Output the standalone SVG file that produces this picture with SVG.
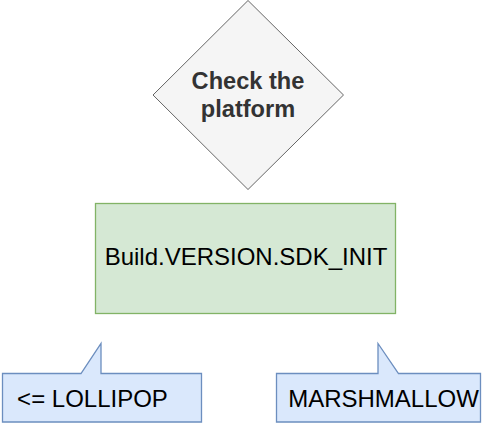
<svg xmlns="http://www.w3.org/2000/svg" width="497" height="424" viewBox="0 0 497 424">
<style>
text { font-family: "Liberation Sans", Arial, Helvetica, sans-serif; font-size: 24px; text-anchor: middle; fill: #000000; }
.decision { fill: #f5f5f5; stroke: #666666; stroke-width: 1; }
.decision-text { font-weight: bold; fill: #333333; font-size: 23.6px; }
.process { fill: #d5e8d4; stroke: #82b366; stroke-width: 1.3; }
.callout { fill: #dae8fc; stroke: #6c8ebf; stroke-width: 1.3; stroke-linejoin: miter; }
</style>
<rect width="497" height="424" fill="#ffffff"/>
<g id="connectors"/>
<g id="node-check-platform">
<polygon class="decision" points="248,0.5 343.5,95 248,189.5 153,95"/>
<text class="decision-text" x="248" y="89">Check the</text>
<text class="decision-text" x="248" y="117">platform</text>
</g>
<g id="node-sdk-int">
<rect class="process" x="95.5" y="203.5" width="300" height="110"/>
<text x="246" y="265">Build.VERSION.SDK_INIT</text>
</g>
<g id="node-lollipop">
<path class="callout" d="M2.5,373.5 H81 L101,343.5 V373.5 H201.5 V422 H2.5 Z"/>
<text x="92.5" y="407">&lt;= LOLLIPOP</text>
</g>
<g id="node-marshmallow">
<path class="callout" d="M276.5,373.5 H378 V343.5 L398.5,373.5 H480.5 V422 H276.5 Z"/>
<text x="383.5" y="407">MARSHMALLOW</text>
</g>
</svg>
